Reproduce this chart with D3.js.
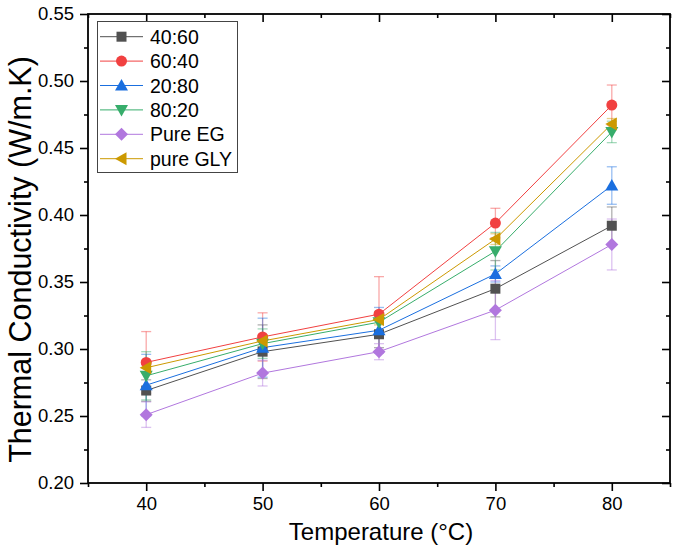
<!DOCTYPE html>
<html><head><meta charset="utf-8">
<script src="https://cdn.jsdelivr.net/npm/d3@7"></script>
<style>body{margin:0;background:#fff}svg{display:block}text{font-family:"Liberation Sans",Arial,sans-serif;fill:#000}</style>
</head><body>
<script>
const temps = [40, 50, 60, 70, 80];
const seriesNames = ["40:60", "60:40", "20:80", "80:20", "Pure EG", "pure GLY"];
const v4060 = [0.269, 0.298, 0.311, 0.345, 0.392];
const e4060 = [0.008, 0.020, 0.010, 0.021, 0.014];
const v6040 = [0.290, 0.309, 0.326, 0.394, 0.482];
const e6040 = [0.023, 0.018, 0.028, 0.011, 0.015];
const v2080 = [0.273, 0.301, 0.314, 0.356, 0.422];
const e2080 = [0.023, 0.022, 0.017, 0.006, 0.014];
const v8020 = [0.280, 0.304, 0.320, 0.373, 0.462];
const e8020 = [0.018, 0.011, 0.008, 0.014, 0.008];
const vEG = [0.251, 0.282, 0.298, 0.329, 0.378];
const eEG = [0.0095, 0.0096, 0.006, 0.022, 0.019];
const vGLY = [0.286, 0.306, 0.322, 0.382, 0.468];
const eGLY = [0.004, 0.004, 0.004, 0.004, 0.004];
const yTicks = [0.20, 0.25, 0.30, 0.35, 0.40, 0.45, 0.50, 0.55];
const xTicks = [40, 50, 60, 70, 80];

const colors = ["#515151", "#F14040", "#1A6FDF", "#37AD6B", "#B177DE", "#CC9900"];
const shapes = ["square", "circle", "up", "down", "diamond", "left"];
const vals = [v4060, v6040, v2080, v8020, vEG, vGLY];
const errs = [e4060, e6040, e2080, e8020, eEG, eGLY];

const W = 673, H = 551;
const L = 88, R = 670, T = 14, B = 483;
const svg = d3.select("body").append("svg").attr("width", W).attr("height", H);
const x = d3.scaleLinear().domain([35, 85]).range([L, R]);
const y = d3.scaleLinear().domain([0.20, 0.55]).range([B, T]);

function shapePath(s) {
  switch (s) {
    case "square": return "M-5,-5H5V5H-5Z";
    case "circle": return d3.symbol(d3.symbolCircle, 95)();
    case "up": return "M0,-6.5L6.5,5L-6.5,5Z";
    case "down": return "M0,6.5L6.5,-5L-6.5,-5Z";
    case "diamond": return "M0,-6.5L6.5,0L0,6.5L-6.5,0Z";
    case "left": return "M-6.5,0L5,-6.5L5,6.5Z";
  }
}

// axes
const minorY = d3.range(0.225, 0.55, 0.05);
const minorX = [35, 45, 55, 65, 75, 85];
const axL = d3.axisLeft(y).tickValues(yTicks).tickFormat(d3.format(".2f")).tickSize(8).tickPadding(6);
svg.append("g").attr("transform", `translate(${L},0)`).call(axL);
svg.append("g").attr("transform", `translate(${L},0)`).call(d3.axisLeft(y).tickValues(minorY).tickFormat("").tickSize(4));
const axB = d3.axisBottom(x).tickValues(xTicks).tickFormat(d3.format("d")).tickSize(8).tickPadding(6);
svg.append("g").attr("transform", `translate(0,${B})`).call(axB);
svg.append("g").attr("transform", `translate(0,${B})`).call(d3.axisBottom(x).tickValues(minorX).tickFormat("").tickSize(4));
// top & right mirror (inward ticks)
svg.append("g").attr("transform", `translate(0,${T})`).call(d3.axisBottom(x).tickValues(xTicks).tickFormat("").tickSize(8));
svg.append("g").attr("transform", `translate(0,${T})`).call(d3.axisBottom(x).tickValues(minorX).tickFormat("").tickSize(4));
svg.append("g").attr("transform", `translate(${R},0)`).call(d3.axisLeft(y).tickValues(yTicks).tickFormat("").tickSize(8));
svg.append("g").attr("transform", `translate(${R},0)`).call(d3.axisLeft(y).tickValues(minorY).tickFormat("").tickSize(4));
svg.selectAll(".domain").remove();
svg.selectAll(".tick line").attr("stroke", "#000").attr("stroke-width", 1.6);
svg.selectAll(".tick text").style("font-size", "18.5px").style("font-family", '"Liberation Sans", Arial, sans-serif');
svg.append("rect").attr("x", L).attr("y", T).attr("width", R - L).attr("height", B - T)
  .attr("fill", "none").attr("stroke", "#000").attr("stroke-width", 1.8);

// titles
svg.append("text").attr("transform", `translate(31,${(T + B) / 2 + 11}) rotate(-90)`)
  .attr("text-anchor", "middle").style("font-size", "30.5px").text("Thermal Conductivity (W/m.K)");
svg.append("text").attr("x", (L + R) / 2 + 2).attr("y", 540)
  .attr("text-anchor", "middle").style("font-size", "24px").text("Temperature (°C)");

// error bars
const plot = svg.append("g");
vals.forEach((vs, i) => {
  const g = plot.append("g").attr("stroke", colors[i]).attr("stroke-opacity", 0.45).attr("stroke-width", 1.3);
  temps.forEach((t, j) => {
    const cx = x(t), y1 = y(vs[j] + errs[i][j]), y2 = y(vs[j] - errs[i][j]);
    g.append("line").attr("x1", cx).attr("x2", cx).attr("y1", y1).attr("y2", y2);
    g.append("line").attr("x1", cx - 5).attr("x2", cx + 5).attr("y1", y1).attr("y2", y1);
    g.append("line").attr("x1", cx - 5).attr("x2", cx + 5).attr("y1", y2).attr("y2", y2);
  });
});
// lines and markers
const line = d3.line().x((d, j) => x(temps[j])).y(d => y(d));
vals.forEach((vs, i) => {
  plot.append("path").attr("d", line(vs)).attr("fill", "none").attr("stroke", colors[i]).attr("stroke-width", 1);
});
vals.forEach((vs, i) => {
  plot.selectAll(null).data(vs).enter().append("path")
    .attr("transform", (d, j) => `translate(${x(temps[j])},${y(d)})`)
    .attr("d", shapePath(shapes[i])).attr("fill", colors[i]);
});

// legend
const lg = svg.append("g");
lg.append("rect").attr("x", 97.5).attr("y", 21.5).attr("width", 140).attr("height", 151)
  .attr("fill", "#fff").attr("stroke", "#444").attr("stroke-width", 1);
seriesNames.forEach((n, i) => {
  const cy = 36.7 + i * 24.4;
  lg.append("line").attr("x1", 100).attr("x2", 143).attr("y1", cy).attr("y2", cy)
    .attr("stroke", colors[i]).attr("stroke-width", 1);
  lg.append("path").attr("transform", `translate(121.5,${cy})`).attr("d", shapePath(shapes[i])).attr("fill", colors[i]);
  lg.append("text").attr("x", 150).attr("y", cy + 7).style("font-size", "19.5px").text(n);
});
</script>
</body></html>
